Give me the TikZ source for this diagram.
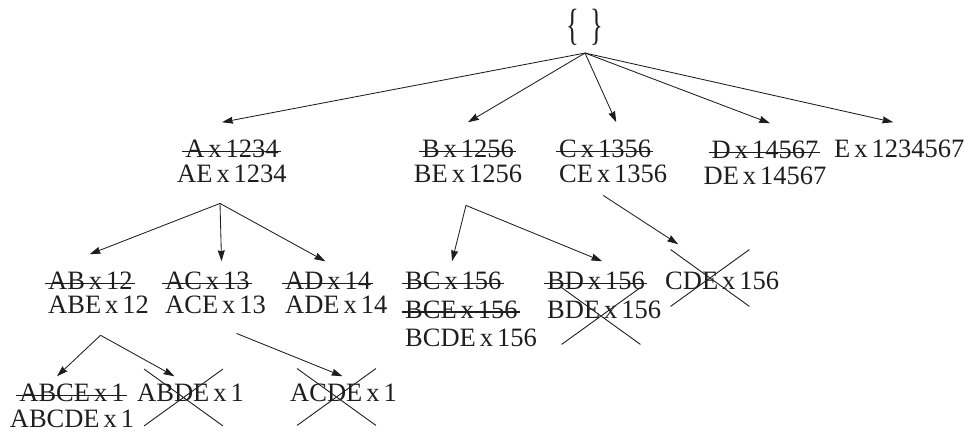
\documentclass[tikz,border=0pt]{standalone}
\usepackage{fontspec}
\setmainfont{Liberation Serif}
\usepackage{graphicx}
\usepackage{tikz}
\usetikzlibrary{arrows.meta,shapes.misc}
\definecolor{ink}{HTML}{1E1E1E}
\newcommand{\treefont}{\fontsize{26.5}{25}\selectfont\setlength{\spaceskip}{.15em}}
\newsavebox{\strkbox}
\newcommand{\strk}[1]{\sbox{\strkbox}{#1}%
  \makebox[0pt][l]{\kern-3pt\rule[.22em]{\dimexpr\wd\strkbox+5pt\relax}{1.2pt}}%
  \usebox{\strkbox}}

\begin{document}
\begin{tikzpicture}[
  x=1pt,y=1pt,
  font=\treefont,
  itemset/.style={inner xsep=0pt,inner ysep=18pt,text=ink},
  rootset/.style={inner xsep=0pt,inner ysep=7pt,text=ink},
  crossx/.style={cross out,draw=ink,line width=.9pt,inner sep=0pt,
                 minimum width=78pt,minimum height=56pt},
  arrow/.style={-{Stealth[length=11pt,width=7pt,inset=1pt]},line width=.85pt,draw=ink}
]
\useasboundingbox (0,0) rectangle (972,435);

\node[rootset,anchor=base] (root) at (585,395)
  {\scalebox{1}[1.65]{\{\hspace{.4em}\}}};

\node[itemset,anchor=base,align=center] (a) at (232,252) {\strk{A x 1234}\\AE x 1234};
\node[itemset,anchor=base,align=center] (b) at (468,252) {\strk{B x 1256}\\BE x 1256};
\node[itemset,anchor=base west,align=left] (c) at (559,252) {\strk{C x 1356}\\CE x 1356};
\node[itemset,anchor=base,align=center] (d) at (765,250) {\strk{D x 14567}\\[1pt]DE x 14567};
\node[itemset,anchor=base west] (e) at (834,277) {E x 1234567};

\node[itemset,anchor=base west,align=left] (ab) at (48,121) {\strk{AB x 12}\\[-1pt]ABE x 12};
\node[itemset,anchor=base west,align=left] (ac) at (165,121) {\strk{AC x 13}\\[-1pt]ACE x 13};
\node[itemset,anchor=base west,align=left] (ad) at (285,121) {\strk{AD x 14}\\[-1pt]ADE x 14};
\node[itemset,anchor=base west,align=left] (bc) at (405,88)
  {\strk{BC x 156}\\[3.5pt]\strk{BCE x 156}\\[3.5pt]BCDE x 156};
\node[itemset,anchor=base west,align=left] (bd) at (547,116) {\strk{BD x 156}\\[4pt]BDE x 156};
\node[itemset,anchor=base west] (cde) at (665,145) {CDE x 156};

\node[itemset,anchor=base,align=center] (abce) at (72,7) {\strk{ABCE x 1}\\[1pt]ABCDE x 1};
\node[itemset,anchor=base west] (abde) at (137,33) {ABDE x 1};
\node[itemset,anchor=base west] (acde) at (290,33) {ACDE x 1};

\node[crossx] (bdex) at (601,119) {};
\node[crossx] (cdex) at (710,157) {};
\node[crossx] (abdex) at (183.5,37.5) {};
\node[crossx] (acdex) at (336.5,38) {};

\draw[arrow] (root.south) -- ([xshift=-10pt]a.north);
\draw[arrow] (root.south) -- (b.north);
\draw[arrow] (root.south) -- ([xshift=3pt]c.north);
\draw[arrow] (root.south) -- ([xshift=5pt]d.north);
\draw[arrow] (root.south) -- ([xshift=-6pt]e.north);

\draw[arrow] ([xshift=-12pt,yshift=-2pt]a.south) -- ([xshift=-9pt]ab.north);
\draw[arrow] ([xshift=-12pt,yshift=-2pt]a.south) -- ([xshift=6pt,yshift=-7pt]ac.north);
\draw[arrow] ([xshift=-12pt,yshift=-2pt]a.south) -- ([xshift=-11pt,yshift=-7pt]ad.north);
\draw[arrow] ([xshift=-2pt,yshift=-4pt]b.south) -- ([xshift=-19pt,yshift=-7pt]bc.north);
\draw[arrow] ([xshift=-2pt,yshift=-4pt]b.south) -- ([xshift=-2pt,yshift=-7pt]bd.north);
\draw[arrow] ([xshift=-10pt,yshift=6pt]c.south) -- ([xshift=-44pt,yshift=10pt]cde.north);

\draw[arrow] ([xshift=2pt,yshift=-3pt]ab.south) -- ([xshift=-15pt,yshift=-10pt]abce.north);
\draw[arrow] ([xshift=2pt,yshift=-3pt]ab.south) -- ([xshift=-16pt,yshift=-10pt]abde.north);
\draw[arrow] ([xshift=21pt,yshift=-1pt]ac.south) -- ([xshift=-1pt,yshift=-10pt]acde.north);
\end{tikzpicture}
\end{document}
